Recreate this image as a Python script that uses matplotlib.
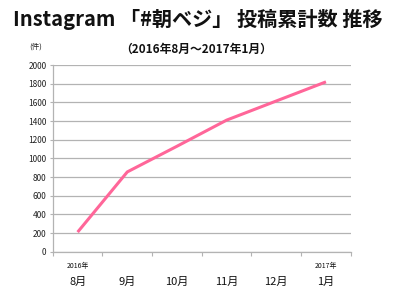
import matplotlib
matplotlib.use("Agg")
import matplotlib.pyplot as plt

plt.rcParams['font.family'] = ['Noto Sans CJK JP', 'DejaVu Sans']

months = ["8月", "9月", "10月", "11月", "12月", "1月"]
years = {0: "2016年", 5: "2017年"}
values = [210, 855, 1130, 1410, 1615, 1820]
yticks = list(range(0, 2001, 200))

fig = plt.figure(figsize=(4, 3.04), dpi=100)
ax = fig.add_axes([0.132, 0.172, 0.745, 0.614])

x = list(range(len(months)))
ax.plot(x, values, color="#ff6699", linewidth=2.2, solid_capstyle="butt", zorder=3)

ax.set_xlim(-0.5, len(months) - 0.5)
ax.set_ylim(0, 2000)
ax.set_yticks(yticks)
ax.set_yticklabels([str(v) for v in yticks], fontsize=6, color="#222222")
ax.yaxis.grid(True, color="#b3b3b3", linewidth=0.9)
ax.set_axisbelow(True)

ax.set_xticks([i - 0.5 for i in range(len(months) + 1)])
ax.set_xticklabels([])
for i, m in enumerate(months):
    ax.text(i, -0.16, m, transform=ax.get_xaxis_transform(), ha="center", va="center",
            fontsize=8, color="#111111")
for i, yr in years.items():
    ax.text(i, -0.075, yr, transform=ax.get_xaxis_transform(), ha="center", va="center",
            fontsize=5, color="#111111")

for s in ["top", "right"]:
    ax.spines[s].set_visible(False)
for s in ["left", "bottom"]:
    ax.spines[s].set_color("#b3b3b3")
    ax.spines[s].set_linewidth(0.9)
ax.tick_params(axis="y", length=2.5, color="#b3b3b3", pad=2)
ax.tick_params(axis="x", length=3, color="#b3b3b3")

fig.text(0.495, 0.935, "Instagram 「#朝ベジ」 投稿累計数 推移", ha="center", va="center",
         fontsize=14.5, fontweight="bold", color="#111111")
fig.text(0.49, 0.838, "（2016年8月～2017年1月）", ha="center", va="center",
         fontsize=8.5, fontweight="bold", color="#111111")
fig.text(0.09, 0.848, "(件)", ha="center", va="center", fontsize=5.5, color="#222222")

fig.savefig("out.png", dpi=100)
